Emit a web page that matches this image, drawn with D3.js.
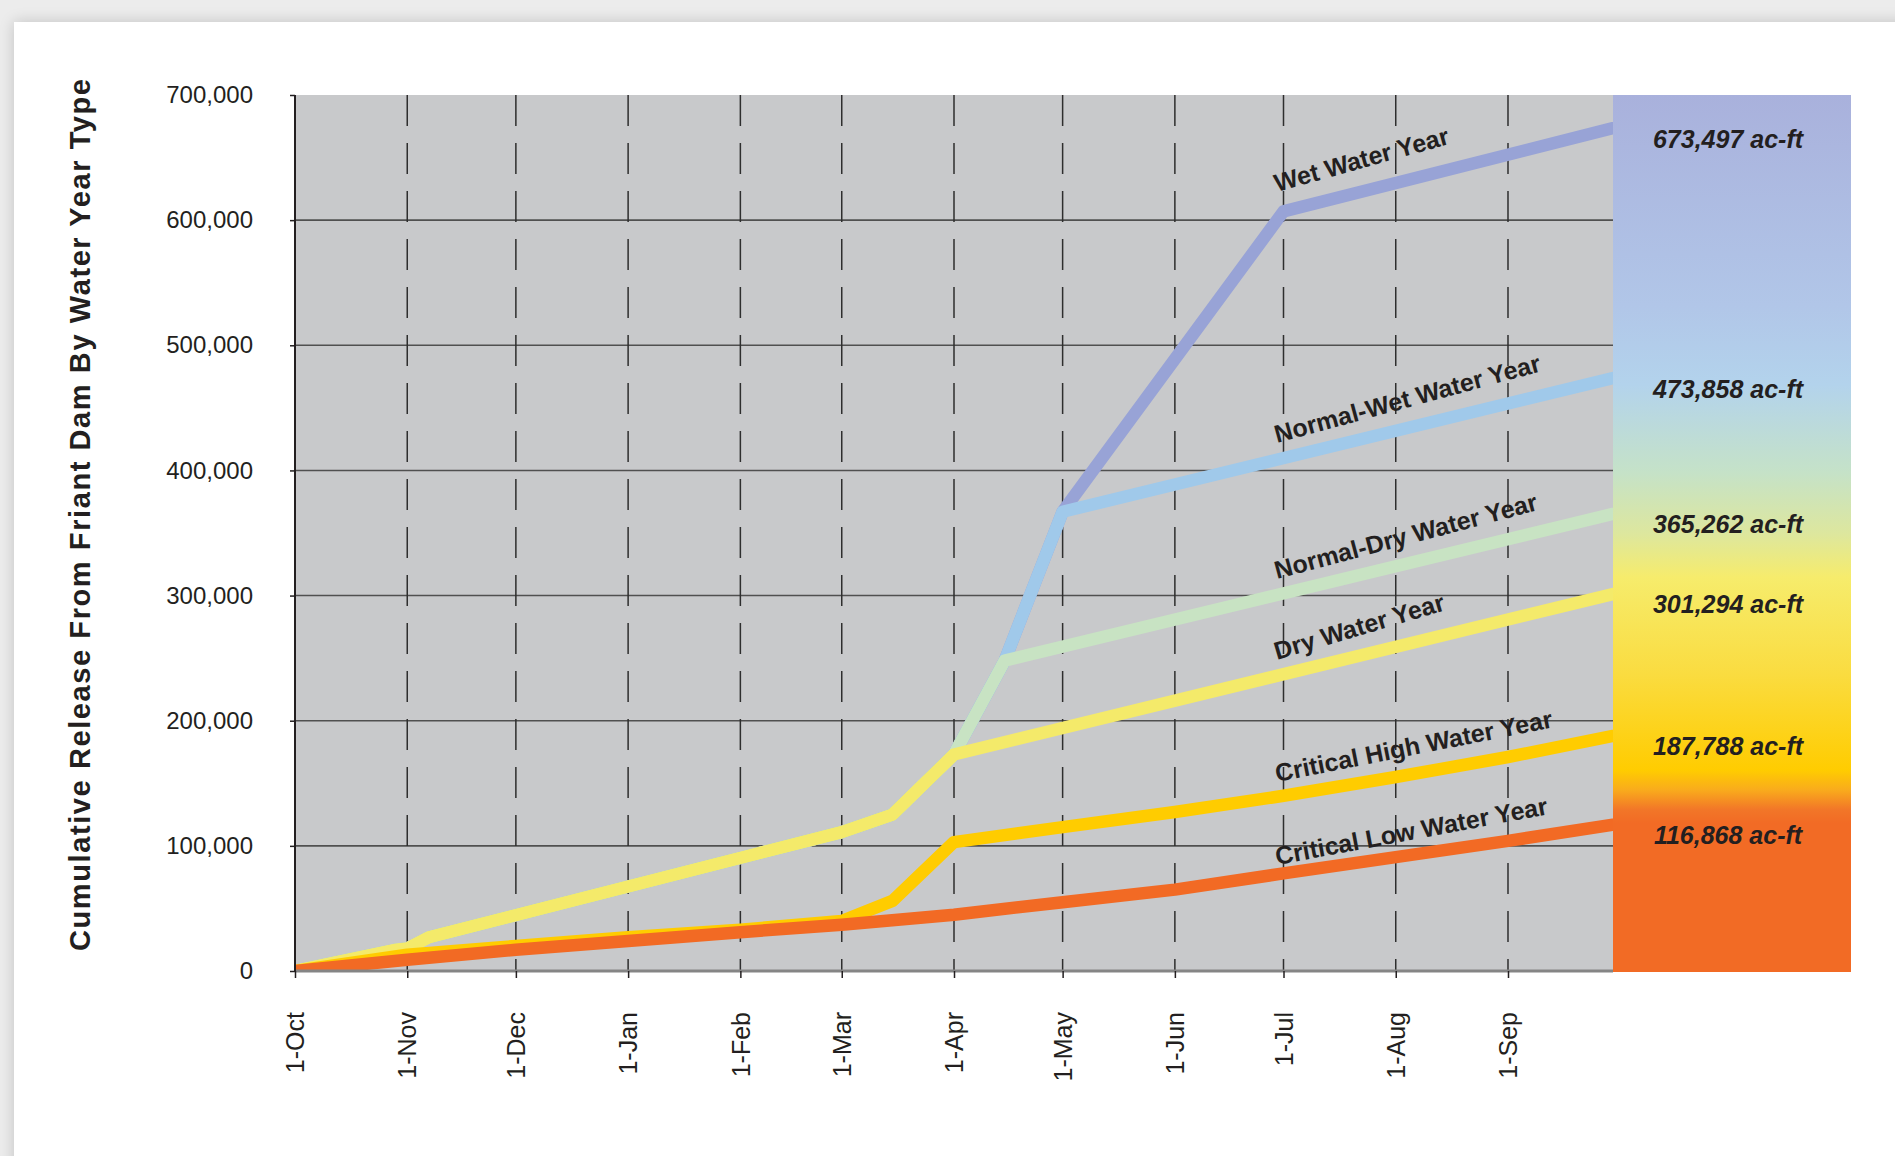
<!DOCTYPE html>
<html>
<head>
<meta charset="utf-8">
<script src="https://cdn.jsdelivr.net/npm/d3@7"></script>
<style>
  html, body { margin: 0; padding: 0; }
  body { width: 1895px; height: 1156px; background: #ececec; position: relative; overflow: hidden; font-family: "Liberation Sans", Arial, sans-serif; }
  #card { position: absolute; left: 14px; top: 22px; width: 1900px; height: 1160px; background: #fff; box-shadow: 0 0 14px rgba(0,0,0,0.18); }
  svg { position: absolute; left: 0; top: 0; }
</style>
</head>
<body>
<div id="card"></div>
<svg id="chart" width="1895" height="1156"></svg>
<script>
// ---------------- DATA ----------------
const seriesNames = ["Wet Water Year", "Normal-Wet Water Year", "Normal-Dry Water Year", "Dry Water Year", "Critical High Water Year", "Critical Low Water Year"];

const wetDates   = ["2009-10-01","2009-10-29","2009-11-01","2009-11-07","2010-03-01","2010-03-15","2010-04-01","2010-04-15","2010-05-01","2010-07-01","2010-09-30"];
const wetValues  = [0, 17000, 18000, 27000, 111000, 125000, 173000, 248000, 367000, 607000, 673497];

const normalWetDates  = ["2009-10-01","2009-10-29","2009-11-01","2009-11-07","2010-03-01","2010-03-15","2010-04-01","2010-04-15","2010-05-01","2010-09-30"];
const normalWetValues = [0, 17000, 18000, 27000, 111000, 125000, 173000, 248000, 367000, 473858];

const normalDryDates  = ["2009-10-01","2009-10-29","2009-11-01","2009-11-07","2010-03-01","2010-03-15","2010-04-01","2010-04-15","2010-09-30"];
const normalDryValues = [0, 17000, 18000, 27000, 111000, 125000, 173000, 248000, 365262];

const dryDates  = ["2009-10-01","2009-10-29","2009-11-01","2009-11-07","2010-03-01","2010-03-15","2010-04-01","2010-09-30"];
const dryValues = [0, 17000, 18000, 27000, 111000, 125000, 173000, 301294];

const criticalHighDates  = ["2009-10-01","2009-11-01","2009-12-01","2010-01-01","2010-02-01","2010-03-01","2010-03-15","2010-04-01","2010-05-01","2010-06-01","2010-07-01","2010-08-01","2010-09-01","2010-09-30"];
const criticalHighValues = [0, 13000, 20000, 27000, 33000, 40000, 56000, 103000, 115000, 127000, 140000, 155000, 171000, 187788];

const criticalLowDates  = ["2009-10-01","2009-11-01","2009-12-01","2010-01-01","2010-02-01","2010-03-01","2010-04-01","2010-05-01","2010-06-01","2010-07-01","2010-08-01","2010-09-01","2010-09-30"];
const criticalLowValues = [0, 9000, 17000, 24000, 31000, 37000, 45000, 55000, 65000, 78000, 91000, 104000, 116868];

const yTickValues = [0, 100000, 200000, 300000, 400000, 500000, 600000, 700000];
const xStart = "2009-10-01", xEnd = "2010-09-30";

// ---------------- STYLE / LAYOUT ----------------
const colors = ["#98a3d6", "#a0c9ea", "#c8e3c3", "#f4ea6a", "#ffcc00", "#f26a24"];
const labelLayout = [
  {x: 1277, y: 192, a: -15.6},
  {x: 1277, y: 443, a: -15.2},
  {x: 1277, y: 579, a: -14.8},
  {x: 1277, y: 660, a: -16.5},
  {x: 1277, y: 782, a: -11.2},
  {x: 1277, y: 865, a: -10.6}
];
const L = 295, R = 1613, T = 95, B = 971, bandR = 1851;

const parse = d3.timeParse("%Y-%m-%d");
const svg = d3.select("#chart");

const x = d3.scaleTime().domain([parse(xStart), parse(xEnd)]).range([L, R]);
const y = d3.scaleLinear().domain([0, 700000]).range([B, T]);

const series = [
  [wetDates, wetValues], [normalWetDates, normalWetValues], [normalDryDates, normalDryValues],
  [dryDates, dryValues], [criticalHighDates, criticalHighValues], [criticalLowDates, criticalLowValues]
].map(([ds, vs], i) => ({ name: seriesNames[i], color: colors[i], pts: ds.map((d, j) => ({date: parse(d), value: vs[j]})) }));

// plot background
svg.append("rect").attr("x", L).attr("y", T).attr("width", R - L).attr("height", B - T).attr("fill", "#c8c9cb");

// horizontal grid
svg.append("g").selectAll("line").data(yTickValues.filter(v => v > 0 && v < 700000)).join("line")
  .attr("x1", L).attr("x2", R).attr("y1", d => y(d)).attr("y2", d => y(d))
  .attr("stroke", "#505050").attr("stroke-width", 1.6);

// vertical dashed grid
const months = x.ticks(d3.timeMonth.every(1));
svg.append("g").selectAll("line").data(months.filter(d => +d !== +parse(xStart))).join("line")
  .attr("x1", d => x(d)).attr("x2", d => x(d)).attr("y1", T).attr("y2", B)
  .attr("stroke", "#2e2e2e").attr("stroke-width", 1.5).attr("stroke-dasharray", "31,17");

// clip for lines
svg.append("clipPath").attr("id", "plotclip").append("rect")
  .attr("x", L).attr("y", T - 20).attr("width", R - L).attr("height", B - T + 20);

const line = d3.line().x(d => x(d.date)).y(d => y(d.value));
svg.append("g").attr("clip-path", "url(#plotclip)").selectAll("path").data(series).join("path")
  .attr("d", d => line(d.pts)).attr("fill", "none").attr("stroke", d => d.color)
  .attr("stroke-width", 12.5).attr("stroke-linejoin", "round").attr("stroke-linecap", "round");

// gradient band
const grad = svg.append("defs").append("linearGradient").attr("id", "bandgrad")
  .attr("x1", 0).attr("y1", 0).attr("x2", 0).attr("y2", 1);
[[0, "#a9b1dc"], [0.24, "#b1c6e8"], [0.33, "#b3d3ec"], [0.43, "#c5e2c8"], [0.5, "#dde79e"],
 [0.55, "#f6ec6c"], [0.66, "#fadc40"], [0.77, "#ffcc00"], [0.792, "#f9ac1c"], [0.815, "#f27628"],
 [0.83, "#f26b25"], [1, "#f26b25"]].forEach(([o, c]) => grad.append("stop").attr("offset", o).attr("stop-color", c));
svg.append("rect").attr("x", R).attr("y", T).attr("width", bandR - R).attr("height", B + 1 - T).attr("fill", "url(#bandgrad)");

// axes
svg.append("line").attr("x1", L).attr("x2", R).attr("y1", B).attr("y2", B).attr("stroke", "#858585").attr("stroke-width", 3);
svg.append("line").attr("x1", L).attr("x2", L).attr("y1", T).attr("y2", B + 1).attr("stroke", "#231f20").attr("stroke-width", 2);

const yAxis = d3.axisLeft(y).tickValues(yTickValues).tickSize(5).tickPadding(37).tickFormat(d3.format(","));
const gy = svg.append("g").attr("transform", `translate(${L},0)`).call(yAxis);
gy.select(".domain").remove();
gy.selectAll(".tick line").attr("stroke", "#231f20").attr("stroke-width", 1.5);
gy.selectAll(".tick text").attr("fill", "#231f20").style("font-size", "24px").style("font-family", "'Liberation Sans', Arial, sans-serif");

const xAxis = d3.axisBottom(x).tickValues(months).tickSize(7).tickFormat(d3.timeFormat("%-d-%b"));
const gx = svg.append("g").attr("transform", `translate(0,${B})`).call(xAxis);
gx.select(".domain").remove();
gx.selectAll(".tick line").attr("stroke", "#231f20").attr("stroke-width", 1.5);
gx.selectAll(".tick text").attr("fill", "#231f20").style("font-size", "25px")
  .style("font-family", "'Liberation Sans', Arial, sans-serif")
  .attr("transform", "rotate(-90)").attr("text-anchor", "end")
  .attr("x", -41).attr("y", 0).attr("dy", "0.35em");

// y title
svg.append("text").attr("transform", "translate(90,515) rotate(-90)").attr("text-anchor", "middle")
  .attr("fill", "#231f20").style("font-size", "29px").style("font-weight", "bold")
  .style("font-family", "'Liberation Sans', Arial, sans-serif").attr("textLength", 872).attr("lengthAdjust", "spacing")
  .text("Cumulative Release From Friant Dam By  Water Year Type");

// line labels
svg.append("g").selectAll("text").data(series).join("text")
  .attr("transform", (d, i) => `translate(${labelLayout[i].x},${labelLayout[i].y}) rotate(${labelLayout[i].a})`)
  .attr("fill", "#231f20").style("font-size", "25px").style("font-weight", "bold")
  .style("font-family", "'Liberation Sans', Arial, sans-serif")
  .text(d => d.name);

// end value labels
svg.append("g").selectAll("text").data(series).join("text")
  .attr("x", (R + bandR) / 2 - 4).attr("y", d => y(d.pts[d.pts.length - 1].value) + 19.5)
  .attr("text-anchor", "middle").attr("fill", "#231f20").style("font-size", "25px")
  .style("font-weight", "bold").style("font-style", "italic")
  .style("font-family", "'Liberation Sans', Arial, sans-serif")
  .text(d => d3.format(",")(d.pts[d.pts.length - 1].value) + " ac-ft");
</script>
</body>
</html>
